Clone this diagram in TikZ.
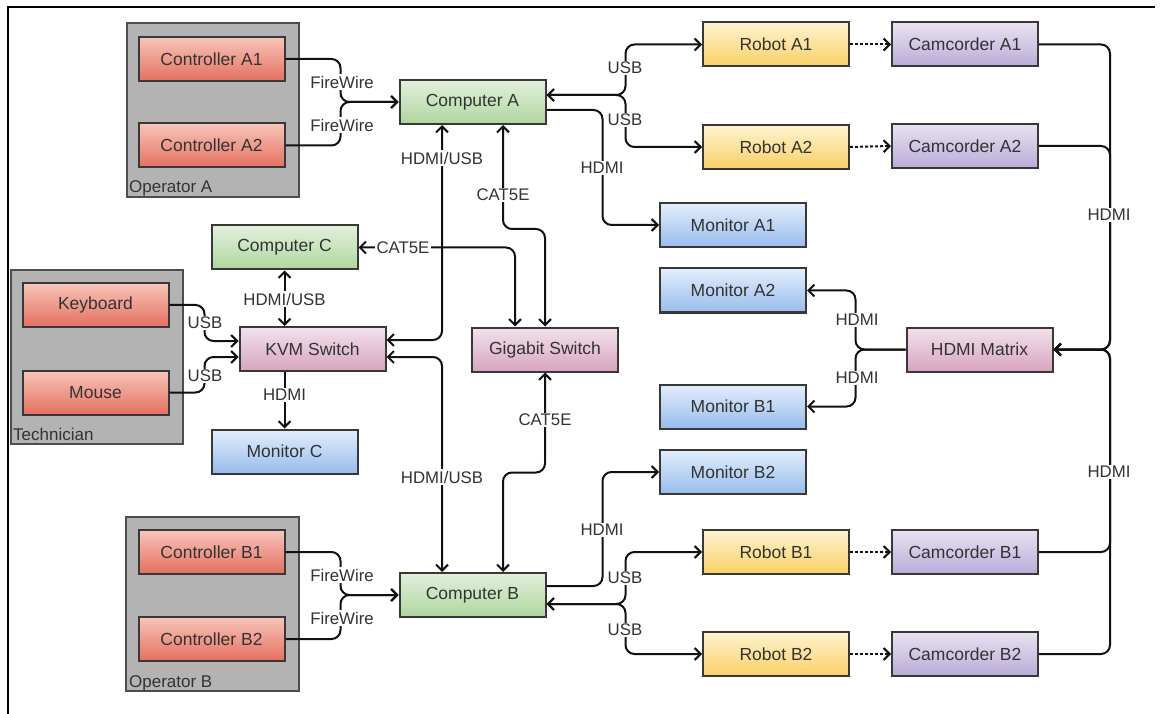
\documentclass[tikz,border=0pt]{standalone}
\usepackage{fontspec}
\setmainfont{Liberation Sans}
\usetikzlibrary{arrows.meta,calc}
\definecolor{txt}{HTML}{333333}
\definecolor{bord}{HTML}{383838}
\definecolor{grpfill}{HTML}{B3B3B3}
\definecolor{grpbord}{HTML}{4D4D4D}
\definecolor{ctrlT}{HTML}{F7C6B9}
\definecolor{ctrlB}{HTML}{E46F60}
\definecolor{compT}{HTML}{E2F0DC}
\definecolor{compB}{HTML}{AFD69E}
\definecolor{robT}{HTML}{FFF3CF}
\definecolor{robB}{HTML}{F9D066}
\definecolor{camT}{HTML}{E9E2F1}
\definecolor{camB}{HTML}{B9ABD8}
\definecolor{monT}{HTML}{E3EEFC}
\definecolor{monB}{HTML}{98BCEB}
\definecolor{swT}{HTML}{F2E2EC}
\definecolor{swB}{HTML}{D7A4C0}
\definecolor{wirec}{HTML}{111111}
\tikzset{
  box/.style={draw=bord, line width=2pt, minimum width=146pt, minimum height=44pt,
    inner sep=0pt, text=txt, font=\fontsize{17.5}{20}\selectfont},
  ctrlbox/.style={box, top color=ctrlT, bottom color=ctrlB},
  compbox/.style={box, top color=compT, bottom color=compB},
  robbox/.style={box, top color=robT, bottom color=robB},
  cambox/.style={box, top color=camT, bottom color=camB},
  monbox/.style={box, top color=monT, bottom color=monB},
  swbox/.style={box, top color=swT, bottom color=swB},
  grpbox/.style={draw=grpbord, fill=grpfill, line width=1.5pt},
  grplbl/.style={anchor=base west, inner sep=0pt, text=txt, font=\fontsize{17}{20}\selectfont},
  lbl/.style={fill=white, inner sep=1.5pt, text=txt, font=\fontsize{16.8}{20}\selectfont},
  wire/.style={draw=wirec, line width=2pt, rounded corners=9pt},
  tip/.style={-{Straight Barb[length=6pt,width=12pt]}},
  tips/.style={{Straight Barb[length=6pt,width=12pt]}-{Straight Barb[length=6pt,width=12pt]}},
  dotwire/.style={draw=wirec, line width=2pt, dash pattern=on 3pt off 2pt,
    -{Straight Barb[length=6pt,width=12pt]}},
}
\begin{document}
\begin{tikzpicture}[x=1pt,y=-1pt]
\useasboundingbox (0,0) rectangle (1160,714);
\fill[white] (0,0) rectangle (1160,714);
% frame
\draw[line width=2pt, black] (8,714) -- (8,7) -- (1155,7);

% groups
\draw[grpbox] (127,23) rectangle (299,197);
\draw[grpbox] (11,270) rectangle (183,444);
\draw[grpbox] (126,517) rectangle (299,691);
\node[grplbl] (gA) at (129,193) {Operator A};
\node[grplbl] (gT) at (13,440) {Technician};
\node[grplbl] (gB) at (129,687) {Operator B};

% nodes
\node[ctrlbox] (ctrlA1) at (211.5,59) {Controller A1};
\node[ctrlbox] (ctrlA2) at (211.5,145.5) {Controller A2};
\node[ctrlbox] (kbd) at (95.5,305) {Keyboard};
\node[ctrlbox] (mouse) at (95.5,392.5) {Mouse};
\node[ctrlbox] (ctrlB1) at (211.5,552) {Controller B1};
\node[ctrlbox] (ctrlB2) at (211.5,639) {Controller B2};

\node[compbox] (compA) at (472.5,102) {Computer A};
\node[compbox] (compC) at (284.5,247.5) {Computer C};
\node[compbox] (compB) at (472.5,595) {Computer B};

\node[swbox] (kvm) at (312.5,349) {KVM Switch};
\node[swbox] (gig) at (545,349.5) {Gigabit Switch};
\node[swbox] (hdmiM) at (979.5,349.5) {HDMI Matrix};

\node[monbox] (monC) at (284.5,451.5) {Monitor C};
\node[monbox] (monA1) at (733,225) {Monitor A1};
\node[monbox] (monA2) at (733,290.5) {Monitor A2};
\node[monbox] (monB1) at (733,406.5) {Monitor B1};
\node[monbox] (monB2) at (733,472) {Monitor B2};

\node[robbox] (robA1) at (776,44.5) {Robot A1};
\node[robbox] (robA2) at (776,147) {Robot A2};
\node[robbox] (robB1) at (776,552) {Robot B1};
\node[robbox] (robB2) at (776,654) {Robot B2};

\node[cambox] (camA1) at (965,44.5) {Camcorder A1};
\node[cambox] (camA2) at (965,146) {Camcorder A2};
\node[cambox] (camB1) at (965,552) {Camcorder B1};
\node[cambox] (camB2) at (965,654) {Camcorder B2};

% FireWire A
\draw[wire,tip] (ctrlA1.east) -- ++(55,0) |- (compA.west);
\draw[wire,tip] (ctrlA2.east) -- ++(55,0) |- (compA.west);
% USB A
\draw[wire,tips] ($(compA.east)+(0,-7)$) -- ++(79,0) |- (robA1.west);
\draw[wire,tips] ($(compA.east)+(0,-7)$) -- ++(79,0) |- (robA2.west);
% HDMI A
\draw[wire,tip] ($(compA.east)+(0,8)$) -- ++(56,0) |- (monA1.west);
% HDMI/USB A - KVM
\draw[wire,tips] ($(compA.south)+(-30.5,0)$) |- ($(kvm.east)+(0,-9)$);
% HDMI/USB KVM - B
\draw[wire,tips] ($(kvm.east)+(0,8)$) -| ($(compB.north)+(-30.5,0)$);
% CAT5E A - gig
\draw[wire,tips] ($(compA.south)+(30.5,0)$) -- ++(0,104) -| (gig.north);
% CAT5E C - gig
\draw[wire,tips] (compC.east) -| ($(gig.north)+(-30,0)$);
% CAT5E gig - B
\draw[wire,tips] (gig.south) -- ++(0,100) -| ($(compB.north)+(30.5,0)$);
% C - KVM
\draw[wire,tips] (compC.south) -- (compC.south |- kvm.north);
% KVM - monitor C
\draw[wire,tip] (monC.north |- kvm.south) -- (monC.north);
% keyboard, mouse
\draw[wire,tip] (kbd.east) -- ++(35,0) |- ($(kvm.west)+(0,-8)$);
\draw[wire,tip] (mouse.east) -- ++(35,0) |- ($(kvm.west)+(0,8)$);
% FireWire B
\draw[wire,tip] (ctrlB1.east) -- ++(55,0) |- (compB.west);
\draw[wire,tip] (ctrlB2.east) -- ++(55,0) |- (compB.west);
% HDMI B
\draw[wire,tip] ($(compB.east)+(0,-9)$) -- ++(56,0) |- (monB2.west);
% USB B
\draw[wire,tips] ($(compB.east)+(0,9)$) -- ++(79,0) |- (robB1.west);
\draw[wire,tips] ($(compB.east)+(0,9)$) -- ++(79,0) |- (robB2.west);
% robots -> camcorders
\draw[dotwire] (robA1.east) -- (camA1.west);
\draw[dotwire] (robA2.east) -- (camA2.west);
\draw[dotwire] (robB1.east) -- (camB1.west);
\draw[dotwire] (robB2.east) -- (camB2.west);
% camcorders -> matrix
\draw[wire,tip] (camA1.east) -- ++(71,0) |- (hdmiM.east);
\draw[wire,tip] (camA2.east) -- ++(71,0) |- (hdmiM.east);
\draw[wire,tip] (camB1.east) -- ++(71,0) |- (hdmiM.east);
\draw[wire,tip] (camB2.east) -- ++(71,0) |- (hdmiM.east);
% matrix -> monitors
\draw[wire,tip] (hdmiM.west) -- ++(-50,0) |- (monA2.east);
\draw[wire,tip] (hdmiM.west) -- ++(-50,0) |- (monB1.east);

% labels
\node[lbl] (l1) at (342,82) {FireWire};
\node[lbl] (l2) at (342,125) {FireWire};
\node[lbl] (l3) at (625,68) {USB};
\node[lbl] (l4) at (625,120) {USB};
\node[lbl] (l5) at (602,168) {HDMI};
\node[lbl] (l6) at (442,158) {HDMI/USB};
\node[lbl] (l7) at (503,195) {CAT5E};
\node[lbl] (l8) at (403,247.5) {CAT5E};
\node[lbl] (l9) at (284.5,299) {HDMI/USB};
\node[lbl] (l10) at (205,323) {USB};
\node[lbl] (l11) at (205,376) {USB};
\node[lbl] (l12) at (284.5,395) {HDMI};
\node[lbl] (l13) at (545,420) {CAT5E};
\node[lbl] (l14) at (442,477) {HDMI/USB};
\node[lbl] (l15) at (602,530) {HDMI};
\node[lbl] (l16) at (342,575) {FireWire};
\node[lbl] (l17) at (342,618) {FireWire};
\node[lbl] (l18) at (625,578) {USB};
\node[lbl] (l19) at (625,630) {USB};
\node[lbl] (l20) at (1109,215) {HDMI};
\node[lbl] (l21) at (1109,472) {HDMI};
\node[lbl] (l22) at (857,320) {HDMI};
\node[lbl] (l23) at (857,378) {HDMI};
\end{tikzpicture}
\end{document}
